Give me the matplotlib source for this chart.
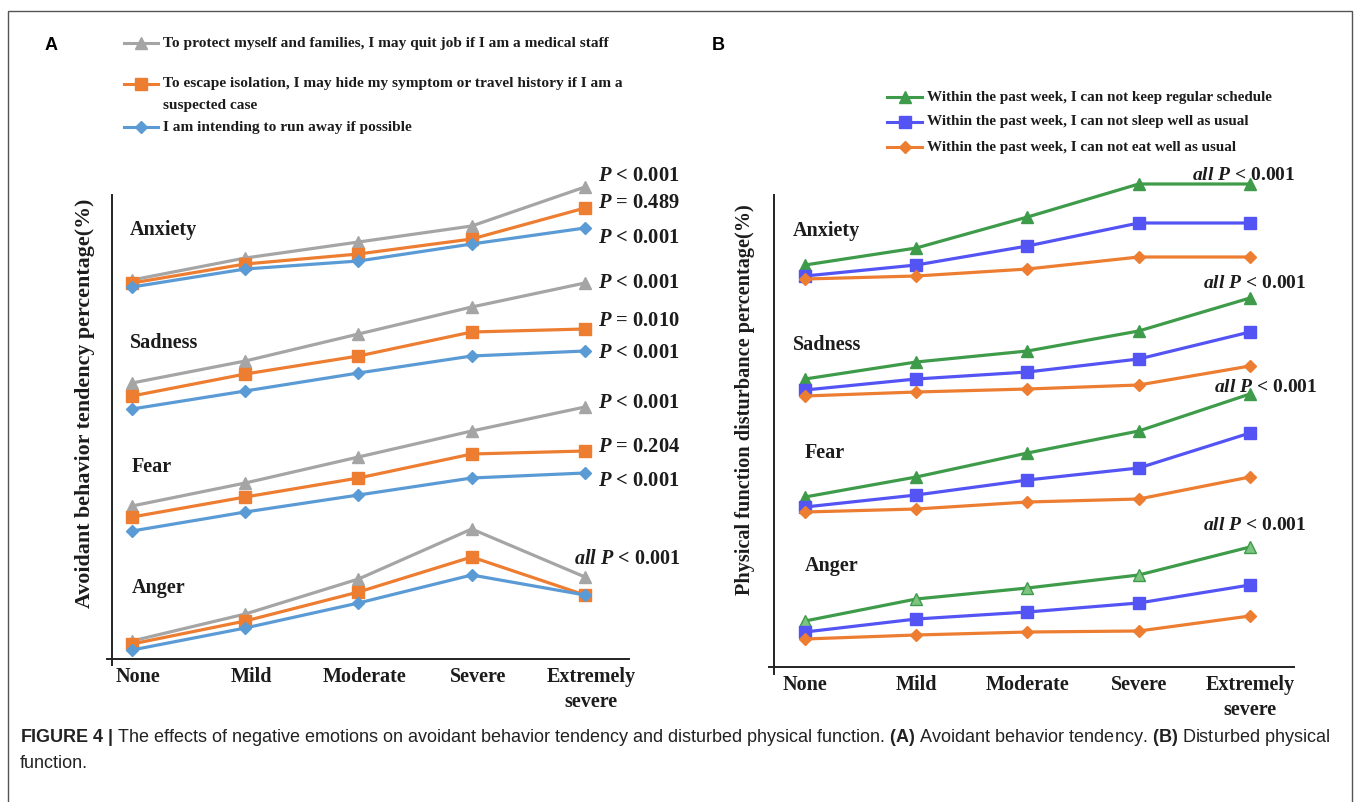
import matplotlib
matplotlib.use('Agg')
import matplotlib.pyplot as plt
import matplotlib.transforms as mtransforms
from matplotlib.lines import Line2D
from matplotlib.patches import Rectangle

W, H = 1357, 802

levels = ['None', 'Mild', 'Moderate', 'Severe', 'Extremely\nsevere']
emotions = ['Anxiety', 'Sadness', 'Fear', 'Anger']

# panel A, relative height of each point above the x axis (no scale printed)
quit_job = {
    'Anxiety': [379, 401, 417, 433, 472],
    'Sadness': [276, 298, 325, 352, 376],
    'Fear': [153, 176, 202, 228, 252],
    'Anger': [18, 45, 80, 130, 82],
}
hide_symptom = {
    'Anxiety': [376, 395, 405, 420, 451],
    'Sadness': [263, 285, 303, 327, 330],
    'Fear': [142, 162, 181, 205, 208],
    'Anger': [15, 38, 67, 102, 64],
}
run_away = {
    'Anxiety': [372, 390, 398, 415, 431],
    'Sadness': [250, 268, 286, 303, 308],
    'Fear': [128, 147, 164, 181, 186],
    'Anger': [9, 31, 56, 84, 64],
}

# panel B
no_schedule = {
    'Anxiety': [402, 419, 450, 483, 483],
    'Sadness': [288, 305, 316, 336, 369],
    'Fear': [170, 190, 214, 236, 273],
    'Anger': [46, 68, 79, 92, 120],
}
no_sleep = {
    'Anxiety': [391, 402, 421, 444, 444],
    'Sadness': [277, 288, 295, 308, 335],
    'Fear': [160, 172, 187, 199, 234],
    'Anger': [35, 48, 55, 64, 82],
}
no_eat = {
    'Anxiety': [388, 391, 398, 410, 410],
    'Sadness': [271, 275, 278, 282, 301],
    'Fear': [155, 158, 165, 168, 190],
    'Anger': [28, 32, 35, 36, 51],
}

p_labels_a = ['P < 0.001', 'P = 0.489', 'P < 0.001',
              'P < 0.001', 'P = 0.010', 'P < 0.001',
              'P < 0.001', 'P = 0.204', 'P < 0.001']
p_levels_a = [483, 456, 421, 376, 338, 306, 256, 212, 178]

legend_a = ['To protect myself and families, I may quit job if I am a medical staff',
            'To escape isolation, I may hide my symptom or travel history if I am a',
            'I am intending to run away if possible']
legend_a_wrap = 'suspected case'
legend_b = ['Within the past week, I can not keep regular schedule',
            'Within the past week, I can not sleep well as usual',
            'Within the past week, I can not eat well as usual']

GRAY, ORANGE, BLUE = '#a5a5a5', '#ed7d31', '#5b9bd5'
GREEN, VIOLET = '#3e9b4a', '#5454f4'
INK = '#1c1c1c'
SERIF = 'Liberation Serif'

plt.rcParams['mathtext.fontset'] = 'custom'
plt.rcParams['mathtext.it'] = 'Liberation Serif:italic:bold'
plt.rcParams['mathtext.rm'] = 'Liberation Serif:bold'
plt.rcParams['mathtext.bf'] = 'Liberation Sans:bold'


def fx(x):
    return x / W


def fy(y):
    return 1 - y / H


def make_axes(fig, left, top, right, bottom, xlim, ylim, label_shift=0):
    ax = fig.add_axes([fx(left), fy(bottom), fx(right - left), (bottom - top) / H])
    ax.set_xlim(*xlim)
    ax.set_ylim(*ylim)
    for s in ax.spines.values():
        s.set_visible(False)
    ax.set_yticks([])
    ax.set_xticks(range(len(levels)))
    ax.set_xticklabels(levels, fontfamily=SERIF, fontweight='bold', fontsize=14.5,
                       color=INK, linespacing=1.3)
    ax.tick_params(axis='x', length=0, pad=6)
    if label_shift:
        off = mtransforms.ScaledTranslation(label_shift / 100, 0, fig.dpi_scale_trans)
        for lab in ax.get_xticklabels():
            lab.set_transform(lab.get_transform() + off)
    # axis lines crossing a little at the origin
    ax.add_line(Line2D([0, 0], [-0.014, 1], transform=ax.transAxes, color='#222', lw=1.4, clip_on=False))
    ax.add_line(Line2D([-0.01, 1], [0, 0], transform=ax.transAxes, color='#222', lw=1.4, clip_on=False))
    return ax


def legend_row(fig, x0, x1, y, color, marker, ms, text, size):
    fig.add_artist(Line2D([fx(x0), fx(x1)], [fy(y), fy(y)], color=color, lw=2.2))
    fig.add_artist(Line2D([fx((x0 + x1) / 2)], [fy(y)], color=color, marker=marker,
                          markersize=ms, lw=0))
    fig.text(fx(x1 + 5), fy(y), text, fontfamily=SERIF, fontweight='bold', fontsize=size,
             color=INK, va='center', ha='left')


def p_text(s):
    head, tail = s.split(' ', 1)
    return r'$%s$ %s' % (head, tail)


fig = plt.figure(figsize=(W / 100, H / 100), dpi=100)
fig.add_artist(Rectangle((fx(8), -0.1), fx(1352 - 8), fy(11) + 0.1, fill=False,
                         edgecolor='#555555', lw=1.0))

# ---------------- panel A ----------------
axa = make_axes(fig, 112, 195, 629, 659, (-0.177, 4.389), (0, 464), label_shift=6)
xs = range(len(levels))
for emo in emotions:
    axa.plot(xs, quit_job[emo], color=GRAY, lw=2.3, marker='^', ms=9, clip_on=False)
    axa.plot(xs, hide_symptom[emo], color=ORANGE, lw=2.3, marker='s', ms=8, clip_on=False)
    axa.plot(xs, run_away[emo], color=BLUE, lw=2.3, marker='D', ms=6, clip_on=False)

for emo, y, dx in zip(emotions, [429, 316, 192, 71], [-0.02, -0.02, 0.0, 0.0]):
    axa.text(dx, y, emo, fontfamily=SERIF, fontweight='bold', fontsize=14.5, color=INK,
             va='center', ha='left')
for lab, y in zip(p_labels_a, p_levels_a):
    axa.text(4.115, y, p_text(lab), fontfamily=SERIF, fontweight='bold', fontsize=14.8,
             color=INK, va='center', ha='left', clip_on=False)
axa.text(3.9, 100, r'$all\ P$ < 0.001', fontfamily=SERIF, fontweight='bold', fontsize=14.5,
         color=INK, va='center', ha='left', clip_on=False)
axa.set_ylabel('Avoidant behavior tendency percentage(%)', fontfamily=SERIF,
               fontweight='bold', fontsize=15.8, color=INK)
axa.yaxis.set_label_coords(-0.033, 0.55)

legend_row(fig, 124, 158, 43, GRAY, '^', 9, legend_a[0], 11.1)
legend_row(fig, 124, 158, 84, ORANGE, 's', 8, legend_a[1], 11.1)
fig.text(fx(163), fy(106), legend_a_wrap, fontfamily=SERIF, fontweight='bold', fontsize=11.1,
         color=INK, va='center', ha='left')
legend_row(fig, 124, 158, 127, BLUE, 'D', 6, legend_a[2], 11.1)

# ---------------- panel B ----------------
axb = make_axes(fig, 774, 195, 1294, 667, (-0.279, 4.396), (0, 472))
for emo in emotions:
    face = '#7cc47f' if emo == 'Anger' else GREEN
    axb.plot(xs, no_schedule[emo], color=GREEN, lw=2.3, marker='^', ms=9,
             markerfacecolor=face, clip_on=False)
    axb.plot(xs, no_sleep[emo], color=VIOLET, lw=2.3, marker='s', ms=8, clip_on=False)
    axb.plot(xs, no_eat[emo], color=ORANGE, lw=2.3, marker='D', ms=6, clip_on=False)

for emo, y, dx in zip(emotions, [436, 322, 214, 101], [-0.11, -0.11, 0.0, 0.0]):
    axb.text(dx, y, emo, fontfamily=SERIF, fontweight='bold', fontsize=14.5, color=INK,
             va='center', ha='left')
for x, y in zip([3.94, 4.04, 4.14, 4.04], [492, 383, 280, 142]):
    axb.text(x, y, r'$all\ P$ < 0.001', fontfamily=SERIF, fontweight='bold', fontsize=14,
             color=INK, va='center', ha='center', clip_on=False)
axb.set_ylabel('Physical function disturbance percentage(%)', fontfamily=SERIF,
               fontweight='bold', fontsize=14.6, color=INK)
axb.yaxis.set_label_coords(-0.037, 0.566)

legend_row(fig, 887, 922, 97, GREEN, '^', 9, legend_b[0], 10.9)
legend_row(fig, 887, 922, 122, VIOLET, 's', 8, legend_b[1], 10.9)
legend_row(fig, 887, 922, 147, ORANGE, 'D', 6, legend_b[2], 10.9)

# panel letters
fig.text(fx(45), fy(45), 'A', fontfamily='Liberation Sans', fontweight='bold', fontsize=13,
         color='black', va='center', ha='left')
fig.text(fx(712), fy(45), 'B', fontfamily='Liberation Sans', fontweight='bold', fontsize=13,
         color='black', va='center', ha='left')

# caption
cap1 = (r'$\mathbf{FIGURE\ 4\ |}$ The effects of negative emotions on avoidant behavior tendency '
        r'and disturbed physical function. $\mathbf{(A)}$ Avoidant behavior tendency. '
        r'$\mathbf{(B)}$ Disturbed physical')
fig.text(fx(20), fy(737), cap1, fontfamily='Liberation Sans', fontsize=13, color='#222',
         va='center', ha='left')
fig.text(fx(20), fy(764), 'function.', fontfamily='Liberation Sans', fontsize=13,
         color='#222', va='center', ha='left')

fig.savefig('out.png', dpi=100, facecolor='white')
